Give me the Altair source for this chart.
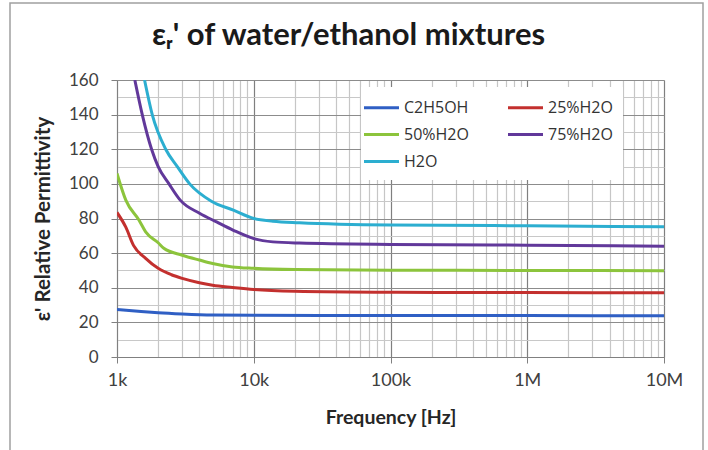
import altair as alt
import pandas as pd

# ---- data ----
series_names = ["C2H5OH", "25%H2O", "50%H2O", "75%H2O", "H2O"]
series_colors = ["#2f5fc4", "#c3302e", "#8cc43c", "#61389a", "#2caed0"]
# legend laid out column by column: first column C2H5OH / 50% / H2O
legend_order = ["C2H5OH", "50%H2O", "H2O", "25%H2O", "75%H2O"]

f_c2h5oh = [1e3, 1.5e3, 2e3, 3e3, 5e3, 1e4, 1e5, 1e6, 1e7]
v_c2h5oh = [27.5, 26.3, 25.6, 24.9, 24.3, 24.1, 24.0, 23.9, 23.8]

f_25 = [1e3, 1.16e3, 1.32e3, 1.62e3, 2e3, 2.5e3, 3e3, 4e3, 5e3, 7e3, 1e4, 2e4, 1e5, 1e6, 1e7]
v_25 = [83.5, 75.0, 64.5, 57.0, 51.2, 47.5, 45.4, 42.9, 41.5, 40.2, 39.0, 38.0, 37.4, 37.2, 37.1]

f_50 = [1e3, 1.16e3, 1.45e3, 1.62e3, 2e3, 2.2e3, 3e3, 4e3, 5e3, 7e3, 1e4, 2e4, 1e5, 1e6, 1e7]
v_50 = [106.0, 90.6, 79.0, 72.3, 66.0, 62.8, 58.8, 56.0, 54.0, 52.0, 51.2, 50.5, 50.1, 50.0, 49.8]

f_75 = [1.35e3, 1.53e3, 1.79e3, 2.0e3, 2.4e3, 2.9e3, 4.04e3, 5.35e3, 7.1e3, 1e4, 1.38e4, 2.16e4, 1e5, 1e6, 1e7]
v_75 = [160.0, 140.0, 120.0, 110.0, 100.0, 90.6, 82.9, 78.0, 73.2, 68.4, 66.5, 65.8, 65.0, 64.6, 64.0]

f_h2o = [1.59e3, 1.81e3, 2.27e3, 2.76e3, 3.4e3, 4.9e3, 7.1e3, 1e4, 1.38e4, 2.16e4, 1e5, 1e6, 1e7]
v_h2o = [160.0, 140.0, 120.0, 110.0, 100.0, 90.0, 84.8, 80.0, 78.4, 77.5, 76.2, 75.8, 75.2]

x_major_values = [1e3, 1e4, 1e5, 1e6, 1e7]
x_major_labels = ["1k", "10k", "100k", "1M", "10M"]
x_minor_mult = [2, 3, 4, 5, 6, 7, 8, 9]
y_tick_values = list(range(0, 161, 10))

# ---- build table ----
rows = []
for name, fs, vs in zip(series_names,
                        [f_c2h5oh, f_25, f_50, f_75, f_h2o],
                        [v_c2h5oh, v_25, v_50, v_75, v_h2o]):
    for i, (f, v) in enumerate(zip(fs, vs)):
        rows.append({"series": name, "freq": f, "eps": v, "order": i})
df = pd.DataFrame(rows)

x_values = []
for d in x_major_values[:-1]:
    x_values.append(d)
    x_values += [d * m for m in x_minor_mult]
x_values.append(x_major_values[-1])

label_expr = " : ".join(
    f"datum.value == {v:g} ? '{l}'" for v, l in zip(x_major_values, x_major_labels)
) + " : ''"
is_decade = "abs(log(datum.value)/LN10 - round(log(datum.value)/LN10)) < 0.000001"
is_major_y = "datum.value % 20 == 0"

FONT = "Lato"

x_axis = alt.Axis(
    values=x_values,
    labelExpr=label_expr,
    labelOverlap=False,
    labelFlush=False,
    labelFont=FONT,
    labelFontSize=18,
    labelColor="#404040",
    labelPadding=8,
    tickSize=6,
    tickColor={"condition": {"test": is_decade, "value": "#808080"}, "value": "transparent"},
    domainColor="#808080",
    grid=True,
    gridColor={"condition": {"test": is_decade, "value": "#7f7f7f"}, "value": "#c6c6c6"},
    gridWidth=1.2,
    title="Frequency [Hz]",
    titleFont=FONT,
    titleFontSize=19.5,
    titleFontWeight="bold",
    titleColor="#262626",
    titlePadding=19,
)

y_axis = alt.Axis(
    values=y_tick_values,
    labelExpr=f"{is_major_y} ? datum.label : ''",
    labelOverlap=False,
    labelFont=FONT,
    labelFontSize=17,
    labelColor="#404040",
    labelPadding=13,
    tickSize=6,
    tickColor={"condition": {"test": is_major_y, "value": "#808080"}, "value": "transparent"},
    domainColor="#808080",
    grid=True,
    gridColor={"condition": {"test": is_major_y, "value": "#8c8c8c"}, "value": "#c8c8c8"},
    gridWidth=1.2,
    title="ε' Relative Permittivity",
    titleFont=FONT,
    titleFontSize=20.5,
    titleFontWeight="bold",
    titleColor="#262626",
    titlePadding=15,
)

lines = alt.Chart(df).mark_line(strokeWidth=3, interpolate="monotone", clip=True).encode(
    x=alt.X("freq:Q", scale=alt.Scale(type="log", domain=[1e3, 1e7]), axis=x_axis),
    y=alt.Y("eps:Q", scale=alt.Scale(domain=[0, 160]), axis=y_axis),
    color=alt.Color(
        "series:N",
        scale=alt.Scale(domain=series_names, range=series_colors),
        legend=alt.Legend(
            title=None,
            values=legend_order,
            orient="none",
            legendX=244,
            legendY=7,
            columns=2,
            symbolType="M-2,0H2",
            symbolSize=306,
            symbolStrokeWidth=3,
            labelFont="Open Sans",
            labelFontSize=16,
            labelColor="#333333",
            labelOffset=12,
            fillColor="white",
            padding=10,
            rowPadding=8,
            columnPadding=33,
        ),
    ),
    order="order:Q",
)

border = alt.Chart(alt.Data(values=[{"k": 1}])).mark_rect(
    fillOpacity=0, stroke="#a0a0a0", strokeWidth=1.5, clip=False
).encode(
    x=alt.value(-107), x2=alt.value(586), y=alt.value(-77), y2=alt.value(400)
)

chart = alt.layer(lines, border).properties(
    width=547,
    height=277,
    padding={"left": 117, "top": 80, "right": 44, "bottom": 93},
    autosize=alt.AutoSizeParams(type="none"),
    title=alt.TitleParams(
        text="εᵣ' of water/ethanol mixtures",
        font=FONT,
        fontSize=31,
        fontWeight="bold",
        color="#1a1a1a",
        anchor="middle",
        baseline="alphabetic",
        dx=-42,
        offset=-74,
    ),
).configure_view(stroke=None).configure(background="white")

chart.save("out.html", embed_options={"renderer": "svg", "actions": False})
